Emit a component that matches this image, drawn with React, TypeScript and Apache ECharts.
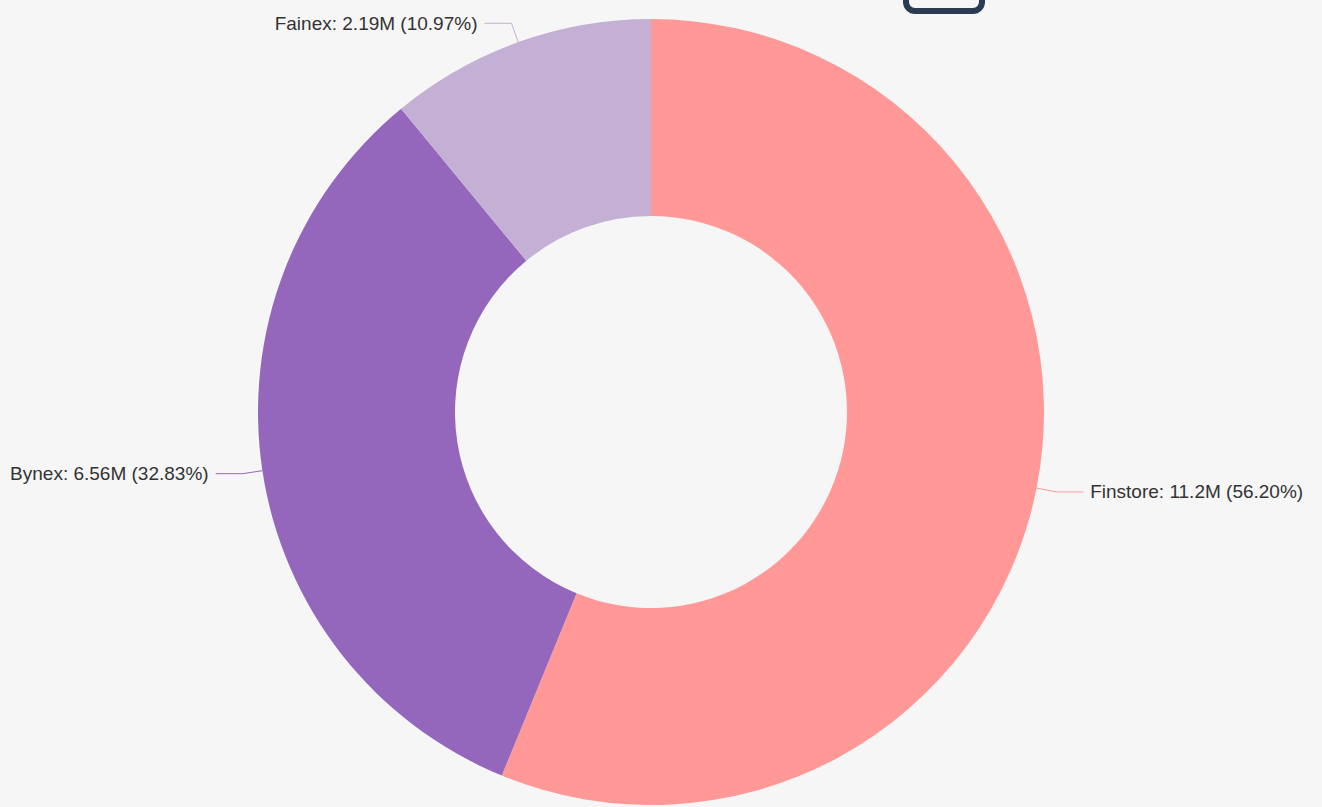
import React, { useEffect, useRef } from "react";
import * as echarts from "echarts";

const categories = ["Finstore", "Bynex", "Fainex"];
const values = [11229000, 6560000, 2192000];
const colors = ["#ff9896", "#9467bd", "#c5b0d5"];

export default function App() {
  const ref = useRef<HTMLDivElement>(null);
  useEffect(() => {
    if (!ref.current) return;
    const chart = echarts.init(ref.current, null, { renderer: "svg" });
    chart.setOption({
      animation: false,
      backgroundColor: "#f6f6f6",
      graphic: [
        {
          type: "rect",
          left: 903,
          top: -32,
          shape: { width: 76, height: 40, r: 9 },
          style: { fill: "none", stroke: "#2b3b52", lineWidth: 6 },
        },
      ],
      series: [
        {
          type: "pie",
          center: [651, 412],
          radius: [196, 393],
          startAngle: 90,
          clockwise: true,
          data: categories.map((c, i) => ({
            name: c,
            value: values[i],
            itemStyle: { color: colors[i] },
          })),
          label: {
            show: true,
            fontSize: 19,
            color: "#333",
            distanceToLabelLine: 7,
            fontFamily: "'Liberation Sans', Arial, sans-serif",
            formatter: (p: any) =>
              `${p.name}: ${Number((p.value / 1e6).toPrecision(3))}M (${p.percent.toFixed(2)}%)`,
          },
          percentPrecision: 2,
          labelLine: { show: true, length: 20, length2: 27 },
        },
      ],
    });
    return () => chart.dispose();
  }, []);
  return (
    <div
      ref={ref}
      style={{ position: "fixed", left: 0, top: 0, width: 1322, height: 807 }}
    />
  );
}
